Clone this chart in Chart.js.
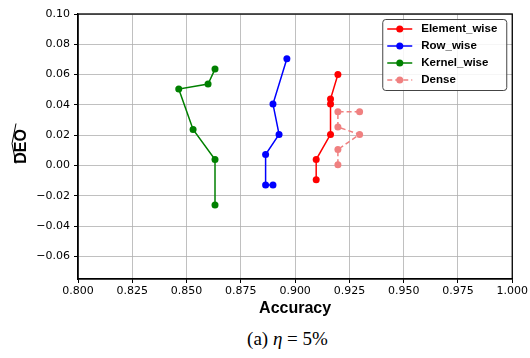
<!DOCTYPE html>
<html>
<head>
<meta charset="utf-8">
<script src="https://cdn.jsdelivr.net/npm/chart.js@4/dist/chart.umd.min.js"></script>
<style>
    body { margin: 0; background: #fff; }
    #wrap { position: relative; width: 530px; height: 358px; }
    #box { position: absolute; left: 0; top: 0; width: 530px; height: 322px; }
    #caption {
        position: absolute; left: 0; width: 575px; top: 328px; text-align: center;
        font-family: "Liberation Serif", "DejaVu Serif", serif; font-size: 19px; color: #000;
    }
</style>
</head>
<body>
<div id="wrap">
    <div id="box"><canvas id="chart"></canvas></div>
    <div id="caption">(a) <i>η</i> = 5%</div>
</div>
<script>
// values
const elementAcc = [0.9197, 0.9163, 0.9163, 0.9163, 0.9097, 0.9097];
const elementDeo = [0.060, 0.0438, 0.0405, 0.0205, 0.0039, -0.0095];

const rowAcc = [0.8962, 0.8898, 0.8926, 0.8864, 0.8864, 0.8898];
const rowDeo = [0.0704, 0.0405, 0.0205, 0.0072, -0.0129, -0.0129];

const kernelAcc = [0.8631, 0.8599, 0.8464, 0.8530, 0.8631, 0.8631];
const kernelDeo = [0.0636, 0.0537, 0.0504, 0.0238, 0.0039, -0.0261];

const denseAcc = [0.9297, 0.9197, 0.9197, 0.9297, 0.9197, 0.9197];
const denseDeo = [0.0354, 0.0354, 0.0253, 0.0205, 0.0105, 0.0004];

const xTicks = [0.800, 0.825, 0.850, 0.875, 0.900, 0.925, 0.950, 0.975, 1.000];
const yTicks = [-0.06, -0.04, -0.02, 0.00, 0.02, 0.04, 0.06, 0.08, 0.10];

const toPoints = (xs, ys) => xs.map((x, i) => ({ x: x, y: ys[i] }));

function series(label, xs, ys, color, dash) {
    return {
        label: label,
        data: toPoints(xs, ys),
        showLine: true,
        borderColor: color,
        backgroundColor: color,
        borderWidth: 1.5,
        borderDash: dash || [],
        pointRadius: 3.5,
        pointHoverRadius: 3.5,
        pointBorderWidth: 0,
        tension: 0
    };
}

const datasets = [
    series('Element_wise', elementAcc, elementDeo, '#ff0000'),
    series('Row_wise', rowAcc, rowDeo, '#0000ff'),
    series('Kernel_wise', kernelAcc, kernelDeo, '#008000'),
    series('Dense', denseAcc, denseDeo, '#f08080', [5, 3])
];

// frame, hat over the y title, and a matplotlib-like legend
const extras = {
    id: 'extras',
    afterDraw(chart) {
        const ctx = chart.ctx;
        const a = chart.chartArea;
        ctx.save();
        ctx.strokeStyle = '#000';
        ctx.lineWidth = 1.3;
        ctx.strokeRect(a.left, a.top, a.right - a.left, a.bottom - a.top);

        // hat for DEO
        const cy = (a.top + a.bottom) / 2 - 3;
        const tx = 22;
        ctx.lineWidth = 1;
        ctx.beginPath();
        ctx.moveTo(tx - 6, cy + 20);
        ctx.lineTo(tx - 10, cy);
        ctx.lineTo(tx - 6, cy - 20);
        ctx.stroke();

        // legend
        const w = 124, h = 71;
        const lx = a.right - 6 - w, ly = a.top + 5;
        ctx.fillStyle = 'rgba(255,255,255,0.85)';
        ctx.strokeStyle = '#444';
        ctx.lineWidth = 1;
        ctx.beginPath();
        ctx.roundRect(lx + 0.5, ly + 0.5, w, h, 3);
        ctx.fill();
        ctx.stroke();
        ctx.font = 'bold 11.5px "Liberation Sans", Arial, sans-serif';
        ctx.textBaseline = 'middle';
        chart.data.datasets.forEach((ds, i) => {
            const y = ly + 10 + i * 17;
            ctx.strokeStyle = ds.borderColor;
            ctx.lineWidth = 1.5;
            ctx.setLineDash(ds.borderDash);
            ctx.beginPath();
            ctx.moveTo(lx + 5, y);
            ctx.lineTo(lx + 30, y);
            ctx.stroke();
            ctx.setLineDash([]);
            ctx.fillStyle = ds.backgroundColor;
            ctx.beginPath();
            ctx.arc(lx + 17.5, y, 3.5, 0, Math.PI * 2);
            ctx.fill();
            ctx.fillStyle = '#000';
            ctx.fillText(ds.label, lx + 39, y);
        });
        ctx.restore();
    }
};

const tickFont = { family: '"DejaVu Sans", sans-serif', size: 11 };
const gridStyle = { color: '#b0b0b0', lineWidth: 0.8, tickColor: '#000', tickLength: 4, tickWidth: 1 };

new Chart(document.getElementById('chart'), {
    type: 'scatter',
    data: { datasets: datasets },
    plugins: [extras],
    options: {
        responsive: true,
        maintainAspectRatio: false,
        animation: false,
        layout: { padding: { left: 0, top: 14, right: 17, bottom: 0 } },
        plugins: { legend: { display: false }, tooltip: { enabled: false } },
        scales: {
            x: {
                min: 0.8,
                max: 1.0,
                afterBuildTicks: s => { s.ticks = xTicks.map(v => ({ value: v })); },
                afterFit: s => { s.height = 43; },
                grid: gridStyle,
                border: { color: '#000', width: 1.3 },
                ticks: { color: '#000', font: tickFont, padding: 2, maxRotation: 0, callback: v => v.toFixed(3) },
                title: {
                    display: true, text: 'Accuracy', color: '#000',
                    font: { family: '"Liberation Sans", Arial, sans-serif', size: 16, weight: 'bold' },
                    padding: { top: 0, bottom: 4 }
                }
            },
            y: {
                min: -0.075,
                max: 0.10,
                afterBuildTicks: s => { s.ticks = yTicks.map(v => ({ value: v })); },
                afterFit: s => { s.width = 78; },
                grid: gridStyle,
                border: { color: '#000', width: 1.3 },
                ticks: {
                    color: '#000', font: tickFont, padding: 4,
                    callback: v => (v < 0 ? '\u2212' : '') + Math.abs(v).toFixed(2)
                },
                title: {
                    display: true, text: 'DEO', color: '#000',
                    font: { family: '"Liberation Sans", Arial, sans-serif', size: 16, weight: 'bold' },
                    padding: { top: 12, bottom: 0 }
                }
            }
        }
    }
});
</script>
</body>
</html>
